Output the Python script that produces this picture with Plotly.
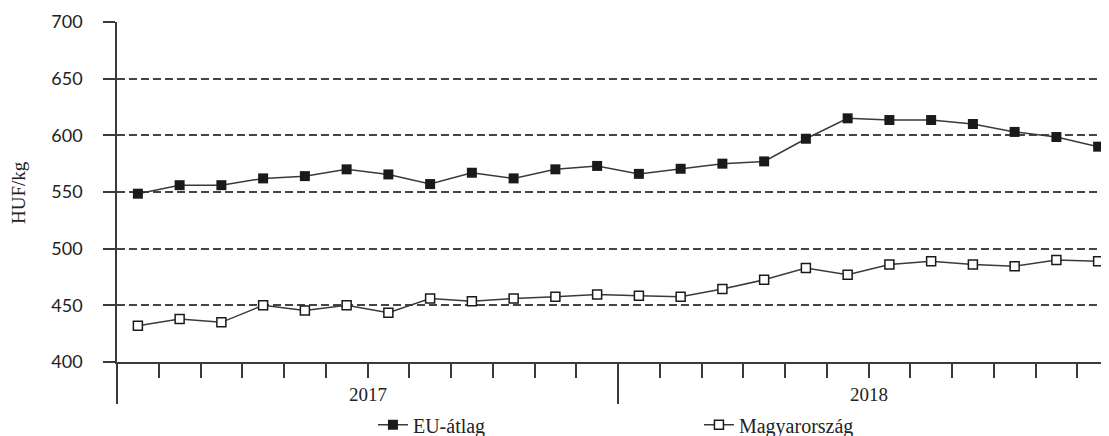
import plotly.graph_objects as go

years = ["2017", "2018"]
months_per_year = 12
eu_atlag = [548.5, 556, 556, 562, 564, 570, 565.5, 557, 567, 562, 570, 573,
            566, 570.5, 575, 577, 597, 615, 613.5, 613.5, 610, 603, 598.5, 590]
magyarorszag = [432, 438, 435, 450, 445.5, 450, 443.5, 456, 453.5, 456, 457.5, 459.5,
                458.5, 457.5, 464.5, 472.5, 483, 477, 486, 489, 486, 484.5, 490, 489]
y_ticks = [400, 450, 500, 550, 600, 650, 700]

n = len(eu_atlag)
x_idx = list(range(n))
FONT = "Liberation Serif"
TICKFONT = "Lato"
LINE = "#3a3a3a"
TXT = "#222"

fig = go.Figure()
fig.add_trace(go.Scatter(
    x=x_idx, y=eu_atlag, name="EU-átlag", mode="lines+markers",
    line=dict(color=LINE, width=1.5),
    marker=dict(symbol="square", size=10, color="#1a1a1a", line=dict(width=0)),
))
fig.add_trace(go.Scatter(
    x=x_idx, y=magyarorszag, name="Magyarország", mode="lines+markers",
    line=dict(color=LINE, width=1.5),
    marker=dict(symbol="square", size=9, color="white", line=dict(color="#1a1a1a", width=1.5)),
))

year_bounds = [i * months_per_year - 0.5 for i in range(len(years))]
month_bounds = [i + 0.5 for i in range(n - 1) if (i + 1) % months_per_year != 0]

fig.update_xaxes(
    range=[-0.5, n - 0.74], showgrid=False, zeroline=False, automargin=False,
    showline=True, linecolor=LINE, linewidth=1.5,
    tickmode="array", tickvals=year_bounds, ticktext=["" for _ in year_bounds],
    ticks="outside", ticklen=40, tickwidth=1.5, tickcolor=LINE,
    minor=dict(tickmode="array", tickvals=month_bounds, ticks="outside",
               ticklen=14, tickwidth=1.5, tickcolor=LINE, showgrid=False),
)
fig.update_yaxes(
    range=[400, 700], tickmode="array", tickvals=y_ticks, automargin=False,
    showgrid=True, gridcolor="#444", gridwidth=1.6, griddash="8px,4px",
    zeroline=False, showline=True, linecolor=LINE, linewidth=1.5,
    ticks="outside", ticklen=12, tickwidth=1.5, tickcolor=LINE,
    ticklabelstandoff=17,
    tickfont=dict(family=TICKFONT, size=18, color=TXT),
)

fig.add_annotation(
    x=-0.0998, y=0.5, xref="paper", yref="paper", xanchor="center", yanchor="middle",
    text="HUF/kg", textangle=-90, showarrow=False,
    font=dict(family=FONT, size=19, color=TXT),
)

for i, yr in enumerate(years):
    fig.add_annotation(
        x=i * months_per_year + (months_per_year - 1) / 2, y=0, xref="x", yref="paper",
        yanchor="top", yshift=-20, text=yr, showarrow=False,
        font=dict(family=FONT, size=19, color=TXT),
    )

fig.update_layout(
    width=1101, height=428,
    margin=dict(l=109, r=0, t=14, b=74, autoexpand=False),
    paper_bgcolor="white", plot_bgcolor="white",
    showlegend=True,
    legend=dict(orientation="h", x=0.258, xanchor="left",
                yref="container", y=0.026, yanchor="middle",
                font=dict(family=FONT, size=20, color=TXT),
                entrywidth=281, entrywidthmode="pixels", bgcolor="rgba(0,0,0,0)"),
)

fig.write_html("out.html")
